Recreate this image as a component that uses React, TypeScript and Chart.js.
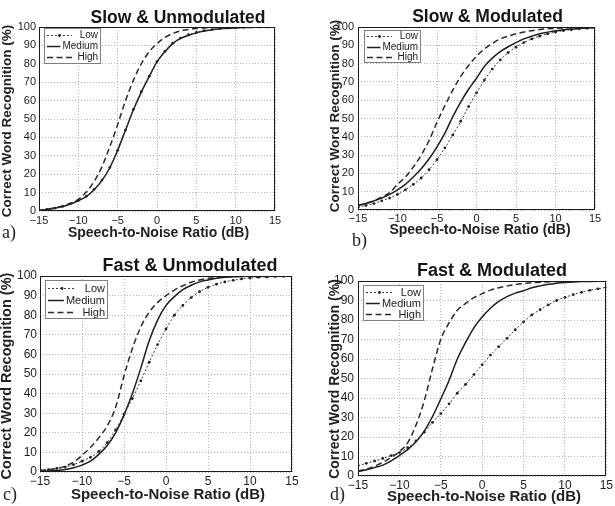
import React, { useEffect, useRef } from "react";
import { Chart, registerables } from "chart.js";

Chart.register(...registerables);

// ---------- data ----------
const snr = [-15, -14, -13, -12, -11, -10, -9, -8, -7, -6, -5, -4, -3, -2, -1, 0, 1, 2, 3, 4, 5, 6, 7, 8, 9, 10, 11, 12, 13, 14, 15];
const seriesNames = ["Low", "Medium", "High"];
const panelTitles = ["Slow & Unmodulated", "Slow & Modulated", "Fast & Unmodulated", "Fast & Modulated"];
const panelLabels = ["a)", "b)", "c)", "d)"];
const xAxisTitle = "Speech-to-Noise Ratio (dB)";
const yAxisTitle = "Correct Word Recognition (%)";

// a) Slow & Unmodulated
const slowUnmodLow = [0.4, 0.9, 1.6, 2.5, 3.9, 5.7, 8, 11.8, 16.8, 23.6, 33, 44, 55.2, 64.8, 73.2, 81.2, 86.8, 91.2, 94, 95.8, 97, 98, 98.6, 99.1, 99.4, 99.6, 99.8, 99.9, 100, 100, 100];
const slowUnmodMedium = [0.3, 0.8, 1.5, 2.4, 3.8, 5.6, 7.8, 11.6, 16.5, 23.5, 33, 44, 55, 64.5, 73, 81, 86.5, 91, 93.8, 95.5, 96.8, 97.8, 98.5, 99, 99.3, 99.5, 99.7, 99.8, 99.9, 100, 100];
const slowUnmodHigh = [0.3, 0.9, 1.7, 2.8, 4.2, 6.3, 10.3, 16, 24, 35, 47, 60, 71, 80, 86.5, 91, 94.3, 96.5, 97.9, 98.7, 99.2, 99.5, 99.7, 99.8, 99.9, 100, 100, 100, 100, 100, 100];

// b) Slow & Modulated
const slowModLow = [1.5, 2.5, 3.5, 5, 6.5, 8.5, 11, 14, 17.5, 22, 27.5, 34, 41, 48.5, 56.5, 64, 71, 77, 82, 86, 89, 91.5, 93.5, 95, 96.2, 97.2, 98, 98.5, 99, 99.3, 99.5];
const slowModMedium = [2.5, 3.5, 5, 6.5, 8.5, 11, 14, 18, 22.5, 28, 34.5, 42, 51, 59, 66, 72, 78.5, 83, 86.5, 89.2, 91.5, 93.5, 95, 96.3, 97.2, 98, 98.5, 98.9, 99.2, 99.5, 99.6];
const slowModHigh = [2.5, 3.5, 5, 7, 9.5, 14, 18, 23.5, 30, 38, 48, 57, 65.5, 73, 79, 84, 88, 91, 93.5, 95, 96.3, 97.3, 98, 98.6, 99, 99.3, 99.5, 99.7, 99.8, 99.9, 100];

// c) Fast & Unmodulated
const fastUnmodLow = [0.8, 1.2, 1.8, 2.5, 3.8, 5.5, 7.5, 10.5, 15, 21.5, 29.5, 37.5, 46.5, 56, 65, 73, 80, 85, 89, 92, 94.2, 95.8, 97, 97.8, 98.5, 99, 99.3, 99.5, 99.7, 99.8, 99.9];
const fastUnmodMedium = [0.3, 0.5, 0.8, 1.3, 2.2, 3.5, 5.5, 9, 13.5, 20, 29, 40, 53, 67, 77.5, 85, 89.5, 93, 95.3, 97, 98, 98.8, 99.3, 99.6, 99.8, 99.9, 100, 100, 100, 100, 100];
const fastUnmodHigh = [0.8, 1.2, 1.8, 3, 5, 8.5, 12.5, 17.5, 23.5, 33, 49, 63, 74, 81.5, 86.5, 90, 92.8, 95, 96.8, 98, 98.8, 99.3, 99.6, 99.8, 99.9, 100, 100, 100, 100, 100, 100];

// d) Fast & Modulated
const fastModLow = [5.3, 6.5, 7.7, 9, 10.5, 12, 14.5, 18, 22.5, 27.5, 32, 37, 42.5, 47, 52, 57, 62, 66.3, 70.6, 75, 79, 82.6, 85.3, 87.8, 90, 91.6, 93, 94.2, 95.2, 96, 96.8];
const fastModMedium = [2.2, 3.2, 4.3, 5.6, 7.8, 10.5, 13.5, 17.5, 23, 30.5, 39.5, 49, 60, 68.5, 76, 81.5, 86, 89.5, 92, 93.8, 95, 96.5, 97.5, 98.3, 98.8, 99.2, 99.5, 99.7, 99.8, 99.9, 100];
const fastModHigh = [2.5, 3.5, 5, 7, 9.5, 12.5, 17, 26, 38.5, 55, 70, 78.5, 85, 88.5, 91.5, 93.5, 95.3, 96.5, 97.5, 98.2, 98.7, 99.1, 99.4, 99.6, 99.8, 99.9, 100, 100, 100, 100, 100];

// ---------- layout / style ----------
const FONT = '"Liberation Sans", Arial, Helvetica, sans-serif';
const SERIF = '"Liberation Serif", "Times New Roman", serif';

type Pos = { x: number; y: number; size: number };
type PanelSpec = {
  idx: number;
  series: number[][];
  box: { left: number; top: number; w: number; h: number };
  area: { l: number; r: number; t: number; b: number };
  titlePos: Pos;
  xTitlePos: Pos;
  yTitlePos: Pos;
  labelPos: Pos;
  legend: { x: number; y: number; w: number; h: number; font: number };
  tickFont: number;
  xTickPad: number;
  yTickPad: number;
};

const panels: PanelSpec[] = [
  {
    idx: 0,
    series: [slowUnmodLow, slowUnmodMedium, slowUnmodHigh],
    box: { left: 0, top: 0, w: 307, h: 250 },
    area: { l: 39, r: 275, t: 27, b: 211 },
    titlePos: { x: 178, y: 23, size: 17.5 },
    xTitlePos: { x: 158.5, y: 237, size: 14 },
    yTitlePos: { x: 7, y: 121, size: 13.5 },
    labelPos: { x: 2, y: 238, size: 18 },
    legend: { x: 44, y: 28, w: 56, h: 35, font: 10 },
    tickFont: 11,
    xTickPad: 3,
    yTickPad: 3,
  },
  {
    idx: 1,
    series: [slowModLow, slowModMedium, slowModHigh],
    box: { left: 307, top: 0, w: 308, h: 250 },
    area: { l: 51, r: 288, t: 27, b: 210 },
    titlePos: { x: 180.5, y: 21.5, size: 17.5 },
    xTitlePos: { x: 173, y: 234, size: 14 },
    yTitlePos: { x: 28, y: 116, size: 13.5 },
    labelPos: { x: 45, y: 246, size: 18 },
    legend: { x: 57, y: 30, w: 56, h: 32, font: 10 },
    tickFont: 11,
    xTickPad: 2,
    yTickPad: 4,
  },
  {
    idx: 2,
    series: [fastUnmodLow, fastUnmodMedium, fastUnmodHigh],
    box: { left: 0, top: 250, w: 307, h: 256 },
    area: { l: 40, r: 292, t: 26, b: 222 },
    titlePos: { x: 190, y: 21, size: 18 },
    xTitlePos: { x: 168, y: 248.5, size: 15 },
    yTitlePos: { x: 7, y: 126, size: 14.5 },
    labelPos: { x: 3, y: 250, size: 18 },
    legend: { x: 45, y: 30, w: 62, h: 38, font: 11 },
    tickFont: 12,
    xTickPad: 2,
    yTickPad: 3,
  },
  {
    idx: 3,
    series: [fastModLow, fastModMedium, fastModHigh],
    box: { left: 307, top: 250, w: 308, h: 256 },
    area: { l: 51, r: 302, t: 31, b: 226 },
    titlePos: { x: 185, y: 26, size: 18 },
    xTitlePos: { x: 177, y: 250.5, size: 15 },
    yTitlePos: { x: 28.5, y: 129, size: 14 },
    labelPos: { x: 23, y: 250, size: 18 },
    legend: { x: 56, y: 35, w: 60, h: 35, font: 11 },
    tickFont: 12,
    xTickPad: 2,
    yTickPad: 4,
  },
];

const seriesStyles = [
  { borderColor: "#3a3a3a", borderWidth: 1, borderDash: [2, 2], pointRadius: 1.4 },
  { borderColor: "#1e1e1e", borderWidth: 1.5, borderDash: [] as number[], pointRadius: 0 },
  { borderColor: "#2a2a2a", borderWidth: 1.5, borderDash: [6, 3.5], pointRadius: 0 },
];

const fmtTick = (v: number) => (v < 0 ? "\u2212" + String(Math.abs(v)) : String(v));

function makeDecor(p: PanelSpec) {
  return {
    id: "decor" + p.idx,
    afterDatasetsDraw(chart: any) {
      const ctx: CanvasRenderingContext2D = chart.ctx;
      const a = chart.chartArea;
      ctx.save();
      ctx.setLineDash([]);
      ctx.strokeStyle = "#1a1a1a";
      ctx.lineWidth = 1;
      const L = Math.round(a.left) + 0.5;
      const T = Math.round(a.top) + 0.5;
      const R = Math.round(a.right) - 0.5;
      const B = Math.round(a.bottom) - 0.5;
      ctx.strokeRect(L, T, R - L, B - T);

      const lg = p.legend;
      ctx.fillStyle = "#ffffff";
      ctx.fillRect(lg.x, lg.y, lg.w, lg.h);
      ctx.strokeStyle = "#808080";
      ctx.lineWidth = 1;
      ctx.strokeRect(lg.x + 0.5, lg.y + 0.5, lg.w, lg.h);
      const rows = [0.2, 0.52, 0.83];
      ctx.font = `${lg.font}px ${FONT}`;
      chart.data.datasets.forEach((ds: any, i: number) => {
        const y = Math.round(lg.y + lg.h * rows[i]) + 0.5;
        const textW = ctx.measureText(ds.label).width;
        const textRight = lg.x + lg.w - 2;
        const lineEnd = Math.min(lg.x + lg.w * 0.5, textRight - textW - 2);
        ctx.strokeStyle = ds.borderColor;
        ctx.lineWidth = ds.borderWidth;
        ctx.setLineDash(ds.borderDash || []);
        ctx.beginPath();
        ctx.moveTo(lg.x + 3, y);
        ctx.lineTo(lineEnd, y);
        ctx.stroke();
        ctx.setLineDash([]);
        if (ds.pointRadius > 0) {
          ctx.fillStyle = "#222";
          ctx.beginPath();
          ctx.arc((lg.x + 3 + lineEnd) / 2, y, ds.pointRadius, 0, Math.PI * 2);
          ctx.fill();
        }
        ctx.fillStyle = "#222";
        ctx.textAlign = "right";
        ctx.textBaseline = "middle";
        ctx.fillText(ds.label, textRight, y);
      });
      ctx.restore();
    },
    afterDraw(chart: any) {
      const ctx: CanvasRenderingContext2D = chart.ctx;
      ctx.save();
      ctx.fillStyle = "#151515";
      ctx.textAlign = "center";
      ctx.textBaseline = "alphabetic";
      ctx.font = `bold ${p.titlePos.size}px ${FONT}`;
      ctx.fillText(panelTitles[p.idx], p.titlePos.x, p.titlePos.y);
      ctx.font = `bold ${p.xTitlePos.size}px ${FONT}`;
      ctx.fillStyle = "#222";
      ctx.fillText(xAxisTitle, p.xTitlePos.x, p.xTitlePos.y);
      ctx.save();
      ctx.translate(p.yTitlePos.x, p.yTitlePos.y);
      ctx.rotate(-Math.PI / 2);
      ctx.textBaseline = "middle";
      ctx.font = `bold ${p.yTitlePos.size}px ${FONT}`;
      ctx.fillText(yAxisTitle, 0, 0);
      ctx.restore();
      ctx.font = `${p.labelPos.size}px ${SERIF}`;
      ctx.textAlign = "left";
      ctx.fillStyle = "#222";
      ctx.fillText(panelLabels[p.idx], p.labelPos.x, p.labelPos.y);
      ctx.restore();
    },
  };
}

function Panel({ p }: { p: PanelSpec }) {
  const ref = useRef<HTMLCanvasElement | null>(null);
  useEffect(() => {
    if (!ref.current) return;
    const { w, h } = p.box;
    const a = p.area;
    const chart = new Chart(ref.current, {
      type: "line",
      data: {
        datasets: p.series.map((vals, i) => ({
          label: seriesNames[i],
          data: snr.map((x, j) => ({ x, y: vals[j] })),
          borderColor: seriesStyles[i].borderColor,
          borderWidth: seriesStyles[i].borderWidth,
          borderDash: seriesStyles[i].borderDash,
          pointRadius: seriesStyles[i].pointRadius,
          pointBackgroundColor: "#222",
          pointBorderWidth: 0,
          pointHoverRadius: 0,
          fill: false,
          cubicInterpolationMode: "monotone" as const,
        })),
      },
      options: {
        responsive: false,
        animation: false,
        events: [],
        devicePixelRatio: 1,
        layout: { padding: { left: 0, top: a.t, right: w - a.r, bottom: 0 } },
        plugins: {
          legend: { display: false },
          title: { display: false },
          tooltip: { enabled: false },
        },
        scales: {
          x: {
            type: "linear",
            min: -15,
            max: 15,
            afterFit: (s: any) => {
              s.height = h - a.b;
            },
            ticks: {
              stepSize: 5,
              autoSkip: false,
              maxRotation: 0,
              padding: p.xTickPad,
              color: "#222",
              font: { family: FONT, size: p.tickFont },
              callback: (v: any) => fmtTick(Number(v)),
            },
            grid: { color: "#b5b5b5", lineWidth: 1, drawTicks: false },
            border: { display: false, dash: [1, 2] },
          },
          y: {
            type: "linear",
            min: 0,
            max: 100,
            afterFit: (s: any) => {
              s.width = a.l;
            },
            ticks: {
              stepSize: 10,
              autoSkip: false,
              padding: p.yTickPad,
              color: "#222",
              font: { family: FONT, size: p.tickFont },
              callback: (v: any) => fmtTick(Number(v)),
            },
            grid: { color: "#b5b5b5", lineWidth: 1, drawTicks: false },
            border: { display: false, dash: [1, 2] },
          },
        },
      },
      plugins: [makeDecor(p)],
    } as any);
    return () => chart.destroy();
  }, [p]);
  return (
    <canvas
      ref={ref}
      width={p.box.w}
      height={p.box.h}
      style={{ position: "absolute", left: p.box.left, top: p.box.top, width: p.box.w, height: p.box.h }}
    />
  );
}

export default function App() {
  return (
    <div style={{ position: "absolute", left: 0, top: 0, width: 615, height: 506, background: "#fff", overflow: "hidden" }}>
      {panels.map((p) => (
        <Panel key={p.idx} p={p} />
      ))}
    </div>
  );
}
